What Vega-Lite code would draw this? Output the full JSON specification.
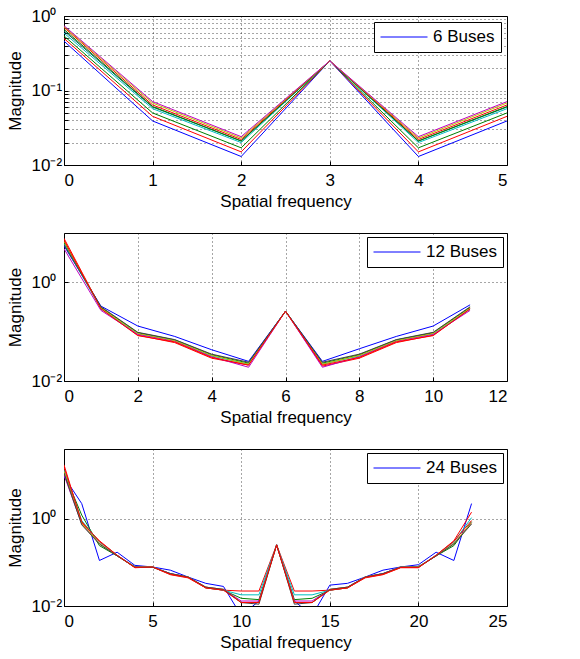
{
  "$schema": "https://vega.github.io/schema/vega-lite/v6.json",
  "padding": {"left": 5, "top": 6, "right": 5, "bottom": 2},
  "config": {
    "font": "Liberation Sans",
    "view": {"stroke": "black", "strokeWidth": 1},
    "axis": {
      "domain": false,
      "grid": true,
      "gridColor": "black",
      "gridDash": [1, 3],
      "gridOpacity": 0.7,
      "tickColor": "black",
      "tickSize": -4,
      "labelFontSize": 17,
      "labelColor": "black",
      "titleFontSize": 17,
      "titleFontWeight": "normal",
      "titleColor": "black",
      "labelOverlap": false
    },
    "axisX": {"labelPadding": 11, "titlePadding": 5},
    "axisY": {"labelAlign": "left", "labelPadding": 37, "titlePadding": 7},
    "legend": {
      "title": null,
      "orient": "top-right",
      "offset": 6,
      "symbolType": "stroke",
      "symbolSize": 2209,
      "symbolStrokeWidth": 1,
      "clipHeight": 18,
      "labelFontSize": 17,
      "labelColor": "black",
      "labelOffset": 5,
      "strokeColor": "black",
      "fillColor": "white",
      "padding": 6
    }
  },
  "datasets": {
    "p1": [
      {"s":"6 Buses","k":0,"m":0.46},{"s":"6 Buses","k":1,"m":0.039},{"s":"6 Buses","k":2,"m":0.013},{"s":"6 Buses","k":3,"m":0.25},{"s":"6 Buses","k":4,"m":0.013},{"s":"6 Buses","k":5,"m":0.039},
      {"s":"6b","k":0,"m":0.5},{"s":"6b","k":1,"m":0.045},{"s":"6b","k":2,"m":0.015},{"s":"6b","k":3,"m":0.25},{"s":"6b","k":4,"m":0.015},{"s":"6b","k":5,"m":0.045},
      {"s":"6c","k":0,"m":0.54},{"s":"6c","k":1,"m":0.05},{"s":"6c","k":2,"m":0.017},{"s":"6c","k":3,"m":0.25},{"s":"6c","k":4,"m":0.017},{"s":"6c","k":5,"m":0.05},
      {"s":"6d","k":0,"m":0.59},{"s":"6d","k":1,"m":0.057},{"s":"6d","k":2,"m":0.02},{"s":"6d","k":3,"m":0.25},{"s":"6d","k":4,"m":0.02},{"s":"6d","k":5,"m":0.057},
      {"s":"6e","k":0,"m":0.63},{"s":"6e","k":1,"m":0.06},{"s":"6e","k":2,"m":0.021},{"s":"6e","k":3,"m":0.25},{"s":"6e","k":4,"m":0.021},{"s":"6e","k":5,"m":0.06},
      {"s":"6f","k":0,"m":0.66},{"s":"6f","k":1,"m":0.061},{"s":"6f","k":2,"m":0.021},{"s":"6f","k":3,"m":0.25},{"s":"6f","k":4,"m":0.021},{"s":"6f","k":5,"m":0.061},
      {"s":"6g","k":0,"m":0.7},{"s":"6g","k":1,"m":0.064},{"s":"6g","k":2,"m":0.022},{"s":"6g","k":3,"m":0.25},{"s":"6g","k":4,"m":0.022},{"s":"6g","k":5,"m":0.064},
      {"s":"6h","k":0,"m":0.72},{"s":"6h","k":1,"m":0.068},{"s":"6h","k":2,"m":0.023},{"s":"6h","k":3,"m":0.25},{"s":"6h","k":4,"m":0.023},{"s":"6h","k":5,"m":0.068},
      {"s":"6i","k":0,"m":0.74},{"s":"6i","k":1,"m":0.071},{"s":"6i","k":2,"m":0.024},{"s":"6i","k":3,"m":0.25},{"s":"6i","k":4,"m":0.024},{"s":"6i","k":5,"m":0.071}
    ],
    "p2": [
      {"s":"12 Buses","k":0,"m":5.5},{"s":"12 Buses","k":1,"m":0.33},{"s":"12 Buses","k":2,"m":0.13},{"s":"12 Buses","k":3,"m":0.08},{"s":"12 Buses","k":4,"m":0.043},{"s":"12 Buses","k":5,"m":0.025},{"s":"12 Buses","k":6,"m":0.26},{"s":"12 Buses","k":7,"m":0.025},{"s":"12 Buses","k":8,"m":0.045},{"s":"12 Buses","k":9,"m":0.08},{"s":"12 Buses","k":10,"m":0.13},{"s":"12 Buses","k":11,"m":0.35},
      {"s":"12b","k":0,"m":6.5},{"s":"12b","k":1,"m":0.31},{"s":"12b","k":2,"m":0.095},{"s":"12b","k":3,"m":0.068},{"s":"12b","k":4,"m":0.034},{"s":"12b","k":5,"m":0.023},{"s":"12b","k":6,"m":0.26},{"s":"12b","k":7,"m":0.023},{"s":"12b","k":8,"m":0.034},{"s":"12b","k":9,"m":0.068},{"s":"12b","k":10,"m":0.095},{"s":"12b","k":11,"m":0.31},
      {"s":"12c","k":0,"m":7.8},{"s":"12c","k":1,"m":0.3},{"s":"12c","k":2,"m":0.085},{"s":"12c","k":3,"m":0.06},{"s":"12c","k":4,"m":0.029},{"s":"12c","k":5,"m":0.021},{"s":"12c","k":6,"m":0.26},{"s":"12c","k":7,"m":0.02},{"s":"12c","k":8,"m":0.029},{"s":"12c","k":9,"m":0.06},{"s":"12c","k":10,"m":0.085},{"s":"12c","k":11,"m":0.29},
      {"s":"12d","k":0,"m":6.0},{"s":"12d","k":1,"m":0.29},{"s":"12d","k":2,"m":0.09},{"s":"12d","k":3,"m":0.066},{"s":"12d","k":4,"m":0.032},{"s":"12d","k":5,"m":0.022},{"s":"12d","k":6,"m":0.26},{"s":"12d","k":7,"m":0.022},{"s":"12d","k":8,"m":0.032},{"s":"12d","k":9,"m":0.066},{"s":"12d","k":10,"m":0.09},{"s":"12d","k":11,"m":0.29},
      {"s":"12e","k":0,"m":4.8},{"s":"12e","k":1,"m":0.27},{"s":"12e","k":2,"m":0.088},{"s":"12e","k":3,"m":0.064},{"s":"12e","k":4,"m":0.031},{"s":"12e","k":5,"m":0.019},{"s":"12e","k":6,"m":0.26},{"s":"12e","k":7,"m":0.019},{"s":"12e","k":8,"m":0.031},{"s":"12e","k":9,"m":0.064},{"s":"12e","k":10,"m":0.088},{"s":"12e","k":11,"m":0.27},
      {"s":"12f","k":0,"m":6.8},{"s":"12f","k":1,"m":0.3},{"s":"12f","k":2,"m":0.092},{"s":"12f","k":3,"m":0.066},{"s":"12f","k":4,"m":0.033},{"s":"12f","k":5,"m":0.022},{"s":"12f","k":6,"m":0.26},{"s":"12f","k":7,"m":0.022},{"s":"12f","k":8,"m":0.033},{"s":"12f","k":9,"m":0.066},{"s":"12f","k":10,"m":0.092},{"s":"12f","k":11,"m":0.3},
      {"s":"12g","k":0,"m":5.8},{"s":"12g","k":1,"m":0.32},{"s":"12g","k":2,"m":0.097},{"s":"12g","k":3,"m":0.069},{"s":"12g","k":4,"m":0.035},{"s":"12g","k":5,"m":0.024},{"s":"12g","k":6,"m":0.26},{"s":"12g","k":7,"m":0.024},{"s":"12g","k":8,"m":0.035},{"s":"12g","k":9,"m":0.069},{"s":"12g","k":10,"m":0.097},{"s":"12g","k":11,"m":0.32},
      {"s":"12h","k":0,"m":7.2},{"s":"12h","k":1,"m":0.29},{"s":"12h","k":2,"m":0.083},{"s":"12h","k":3,"m":0.062},{"s":"12h","k":4,"m":0.03},{"s":"12h","k":5,"m":0.021},{"s":"12h","k":6,"m":0.26},{"s":"12h","k":7,"m":0.021},{"s":"12h","k":8,"m":0.03},{"s":"12h","k":9,"m":0.062},{"s":"12h","k":10,"m":0.083},{"s":"12h","k":11,"m":0.29}
    ],
    "p3": [
      {"s":"24 Buses","k":0,"m":9},{"s":"24 Buses","k":1,"m":2.2},{"s":"24 Buses","k":2,"m":0.11},{"s":"24 Buses","k":3,"m":0.17},{"s":"24 Buses","k":4,"m":0.085},{"s":"24 Buses","k":5,"m":0.078},{"s":"24 Buses","k":6,"m":0.066},{"s":"24 Buses","k":7,"m":0.046},{"s":"24 Buses","k":8,"m":0.033},{"s":"24 Buses","k":9,"m":0.028},{"s":"24 Buses","k":10,"m":0.006},{"s":"24 Buses","k":11,"m":0.013},{"s":"24 Buses","k":12,"m":0.25},{"s":"24 Buses","k":13,"m":0.013},{"s":"24 Buses","k":14,"m":0.006},{"s":"24 Buses","k":15,"m":0.03},{"s":"24 Buses","k":16,"m":0.033},{"s":"24 Buses","k":17,"m":0.046},{"s":"24 Buses","k":18,"m":0.066},{"s":"24 Buses","k":19,"m":0.078},{"s":"24 Buses","k":20,"m":0.088},{"s":"24 Buses","k":21,"m":0.17},{"s":"24 Buses","k":22,"m":0.11},{"s":"24 Buses","k":23,"m":2.2},
      {"s":"24b","k":0,"m":11},{"s":"24b","k":1,"m":1.2},{"s":"24b","k":2,"m":0.24},{"s":"24b","k":3,"m":0.14},{"s":"24b","k":4,"m":0.08},{"s":"24b","k":5,"m":0.078},{"s":"24b","k":6,"m":0.055},{"s":"24b","k":7,"m":0.046},{"s":"24b","k":8,"m":0.026},{"s":"24b","k":9,"m":0.023},{"s":"24b","k":10,"m":0.015},{"s":"24b","k":11,"m":0.014},{"s":"24b","k":12,"m":0.25},{"s":"24b","k":13,"m":0.014},{"s":"24b","k":14,"m":0.015},{"s":"24b","k":15,"m":0.023},{"s":"24b","k":16,"m":0.026},{"s":"24b","k":17,"m":0.046},{"s":"24b","k":18,"m":0.055},{"s":"24b","k":19,"m":0.078},{"s":"24b","k":20,"m":0.08},{"s":"24b","k":21,"m":0.14},{"s":"24b","k":22,"m":0.24},{"s":"24b","k":23,"m":0.85},
      {"s":"24c","k":0,"m":17},{"s":"24c","k":1,"m":0.8},{"s":"24c","k":2,"m":0.31},{"s":"24c","k":3,"m":0.145},{"s":"24c","k":4,"m":0.075},{"s":"24c","k":5,"m":0.078},{"s":"24c","k":6,"m":0.052},{"s":"24c","k":7,"m":0.044},{"s":"24c","k":8,"m":0.026},{"s":"24c","k":9,"m":0.023},{"s":"24c","k":10,"m":0.022},{"s":"24c","k":11,"m":0.022},{"s":"24c","k":12,"m":0.25},{"s":"24c","k":13,"m":0.022},{"s":"24c","k":14,"m":0.022},{"s":"24c","k":15,"m":0.023},{"s":"24c","k":16,"m":0.026},{"s":"24c","k":17,"m":0.044},{"s":"24c","k":18,"m":0.052},{"s":"24c","k":19,"m":0.075},{"s":"24c","k":20,"m":0.075},{"s":"24c","k":21,"m":0.145},{"s":"24c","k":22,"m":0.31},{"s":"24c","k":23,"m":1.4},
      {"s":"24d","k":0,"m":13},{"s":"24d","k":1,"m":0.9},{"s":"24d","k":2,"m":0.29},{"s":"24d","k":3,"m":0.145},{"s":"24d","k":4,"m":0.078},{"s":"24d","k":5,"m":0.078},{"s":"24d","k":6,"m":0.055},{"s":"24d","k":7,"m":0.046},{"s":"24d","k":8,"m":0.027},{"s":"24d","k":9,"m":0.023},{"s":"24d","k":10,"m":0.018},{"s":"24d","k":11,"m":0.018},{"s":"24d","k":12,"m":0.25},{"s":"24d","k":13,"m":0.018},{"s":"24d","k":14,"m":0.018},{"s":"24d","k":15,"m":0.023},{"s":"24d","k":16,"m":0.027},{"s":"24d","k":17,"m":0.046},{"s":"24d","k":18,"m":0.055},{"s":"24d","k":19,"m":0.078},{"s":"24d","k":20,"m":0.078},{"s":"24d","k":21,"m":0.145},{"s":"24d","k":22,"m":0.29},{"s":"24d","k":23,"m":1.05},
      {"s":"24e","k":0,"m":10},{"s":"24e","k":1,"m":0.75},{"s":"24e","k":2,"m":0.27},{"s":"24e","k":3,"m":0.14},{"s":"24e","k":4,"m":0.078},{"s":"24e","k":5,"m":0.078},{"s":"24e","k":6,"m":0.055},{"s":"24e","k":7,"m":0.046},{"s":"24e","k":8,"m":0.027},{"s":"24e","k":9,"m":0.024},{"s":"24e","k":10,"m":0.013},{"s":"24e","k":11,"m":0.013},{"s":"24e","k":12,"m":0.25},{"s":"24e","k":13,"m":0.013},{"s":"24e","k":14,"m":0.013},{"s":"24e","k":15,"m":0.024},{"s":"24e","k":16,"m":0.027},{"s":"24e","k":17,"m":0.046},{"s":"24e","k":18,"m":0.055},{"s":"24e","k":19,"m":0.078},{"s":"24e","k":20,"m":0.078},{"s":"24e","k":21,"m":0.14},{"s":"24e","k":22,"m":0.27},{"s":"24e","k":23,"m":0.8},
      {"s":"24f","k":0,"m":12},{"s":"24f","k":1,"m":0.78},{"s":"24f","k":2,"m":0.27},{"s":"24f","k":3,"m":0.14},{"s":"24f","k":4,"m":0.077},{"s":"24f","k":5,"m":0.078},{"s":"24f","k":6,"m":0.054},{"s":"24f","k":7,"m":0.046},{"s":"24f","k":8,"m":0.027},{"s":"24f","k":9,"m":0.024},{"s":"24f","k":10,"m":0.012},{"s":"24f","k":11,"m":0.012},{"s":"24f","k":12,"m":0.25},{"s":"24f","k":13,"m":0.012},{"s":"24f","k":14,"m":0.012},{"s":"24f","k":15,"m":0.024},{"s":"24f","k":16,"m":0.027},{"s":"24f","k":17,"m":0.046},{"s":"24f","k":18,"m":0.054},{"s":"24f","k":19,"m":0.077},{"s":"24f","k":20,"m":0.078},{"s":"24f","k":21,"m":0.14},{"s":"24f","k":22,"m":0.27},{"s":"24f","k":23,"m":0.8},
      {"s":"24g","k":0,"m":11},{"s":"24g","k":1,"m":0.72},{"s":"24g","k":2,"m":0.26},{"s":"24g","k":3,"m":0.14},{"s":"24g","k":4,"m":0.077},{"s":"24g","k":5,"m":0.077},{"s":"24g","k":6,"m":0.055},{"s":"24g","k":7,"m":0.046},{"s":"24g","k":8,"m":0.027},{"s":"24g","k":9,"m":0.024},{"s":"24g","k":10,"m":0.012},{"s":"24g","k":11,"m":0.011},{"s":"24g","k":12,"m":0.25},{"s":"24g","k":13,"m":0.011},{"s":"24g","k":14,"m":0.012},{"s":"24g","k":15,"m":0.024},{"s":"24g","k":16,"m":0.027},{"s":"24g","k":17,"m":0.046},{"s":"24g","k":18,"m":0.055},{"s":"24g","k":19,"m":0.077},{"s":"24g","k":20,"m":0.077},{"s":"24g","k":21,"m":0.14},{"s":"24g","k":22,"m":0.26},{"s":"24g","k":23,"m":0.75},
      {"s":"24h","k":0,"m":15},{"s":"24h","k":1,"m":0.85},{"s":"24h","k":2,"m":0.3},{"s":"24h","k":3,"m":0.145},{"s":"24h","k":4,"m":0.076},{"s":"24h","k":5,"m":0.078},{"s":"24h","k":6,"m":0.053},{"s":"24h","k":7,"m":0.045},{"s":"24h","k":8,"m":0.026},{"s":"24h","k":9,"m":0.023},{"s":"24h","k":10,"m":0.012},{"s":"24h","k":11,"m":0.012},{"s":"24h","k":12,"m":0.25},{"s":"24h","k":13,"m":0.012},{"s":"24h","k":14,"m":0.012},{"s":"24h","k":15,"m":0.023},{"s":"24h","k":16,"m":0.026},{"s":"24h","k":17,"m":0.045},{"s":"24h","k":18,"m":0.053},{"s":"24h","k":19,"m":0.076},{"s":"24h","k":20,"m":0.076},{"s":"24h","k":21,"m":0.145},{"s":"24h","k":22,"m":0.3},{"s":"24h","k":23,"m":0.9}
    ]
  },
  "spacing": 22,
  "resolve": {"scale": {"color": "independent"}, "legend": {"color": "independent"}},
  "vconcat": [
    {
      "data": {"name": "p1"},
      "width": 443,
      "height": 149,
      "mark": {"type": "line", "strokeWidth": 1, "clip": true},
      "encoding": {
        "x": {"field": "k", "type": "quantitative", "scale": {"domain": [0, 5], "nice": false, "zero": false},
              "axis": {"values": [0, 1, 2, 3, 4, 5], "title": "Spatial frequency"}},
        "y": {"field": "m", "type": "quantitative", "scale": {"type": "log", "domain": [0.01, 1], "nice": false},
              "axis": {"values": [0.01,0.02,0.03,0.04,0.05,0.06,0.07,0.08,0.09,0.1,0.2,0.3,0.4,0.5,0.6,0.7,0.8,0.9,1],
                       "labelExpr": "datum.value == 1 ? '10⁰' : datum.value == 0.1 ? '10⁻¹' : datum.value == 0.01 ? '10⁻²' : ''",
                       "title": "Magnitude"}},
        "color": {"field": "s", "type": "nominal",
                  "scale": {"domain": ["6 Buses","6b","6c","6d","6e","6f","6g","6h","6i"],
                            "range": ["#0000FF","#FF0000","#008000","#00BFBF","#006060","#008000","#FF0000","#BFBF00","#BF00BF"]},
                  "legend": {"values": ["6 Buses"]}}
      }
    },
    {
      "data": {"name": "p2"},
      "width": 443,
      "height": 148,
      "mark": {"type": "line", "strokeWidth": 1, "clip": true},
      "encoding": {
        "x": {"field": "k", "type": "quantitative", "scale": {"domain": [0, 12], "nice": false, "zero": false},
              "axis": {"values": [0, 2, 4, 6, 8, 10, 12], "title": "Spatial frequency"}},
        "y": {"field": "m", "type": "quantitative", "scale": {"type": "log", "domain": [0.01, 10], "nice": false},
              "axis": {"values": [0.01, 1],
                       "labelExpr": "datum.value == 1 ? '10⁰' : datum.value == 0.01 ? '10⁻²' : ''",
                       "title": "Magnitude"}},
        "color": {"field": "s", "type": "nominal",
                  "scale": {"domain": ["12 Buses","12b","12c","12d","12e","12f","12g","12h"],
                            "range": ["#0000FF","#008000","#FF0000","#00BFBF","#BF00BF","#BFBF00","#404040","#FF0000"]},
                  "legend": {"values": ["12 Buses"], "offset": 4}}
      }
    },
    {
      "data": {"name": "p3"},
      "width": 443,
      "height": 157,
      "mark": {"type": "line", "strokeWidth": 1, "clip": true},
      "encoding": {
        "x": {"field": "k", "type": "quantitative", "scale": {"domain": [0, 25], "nice": false, "zero": false},
              "axis": {"values": [0, 5, 10, 15, 20, 25], "title": "Spatial frequency"}},
        "y": {"field": "m", "type": "quantitative", "scale": {"type": "log", "domain": [0.01, 39], "nice": false},
              "axis": {"values": [0.01, 1],
                       "labelExpr": "datum.value == 1 ? '10⁰' : datum.value == 0.01 ? '10⁻²' : ''",
                       "title": "Magnitude"}},
        "color": {"field": "s", "type": "nominal",
                  "scale": {"domain": ["24 Buses","24b","24c","24d","24e","24f","24g","24h"],
                            "range": ["#0000FF","#008000","#FF0000","#00BFBF","#BF00BF","#BFBF00","#404040","#FF0000"]},
                  "legend": {"values": ["24 Buses"], "offset": 4}}
      }
    }
  ]
}
